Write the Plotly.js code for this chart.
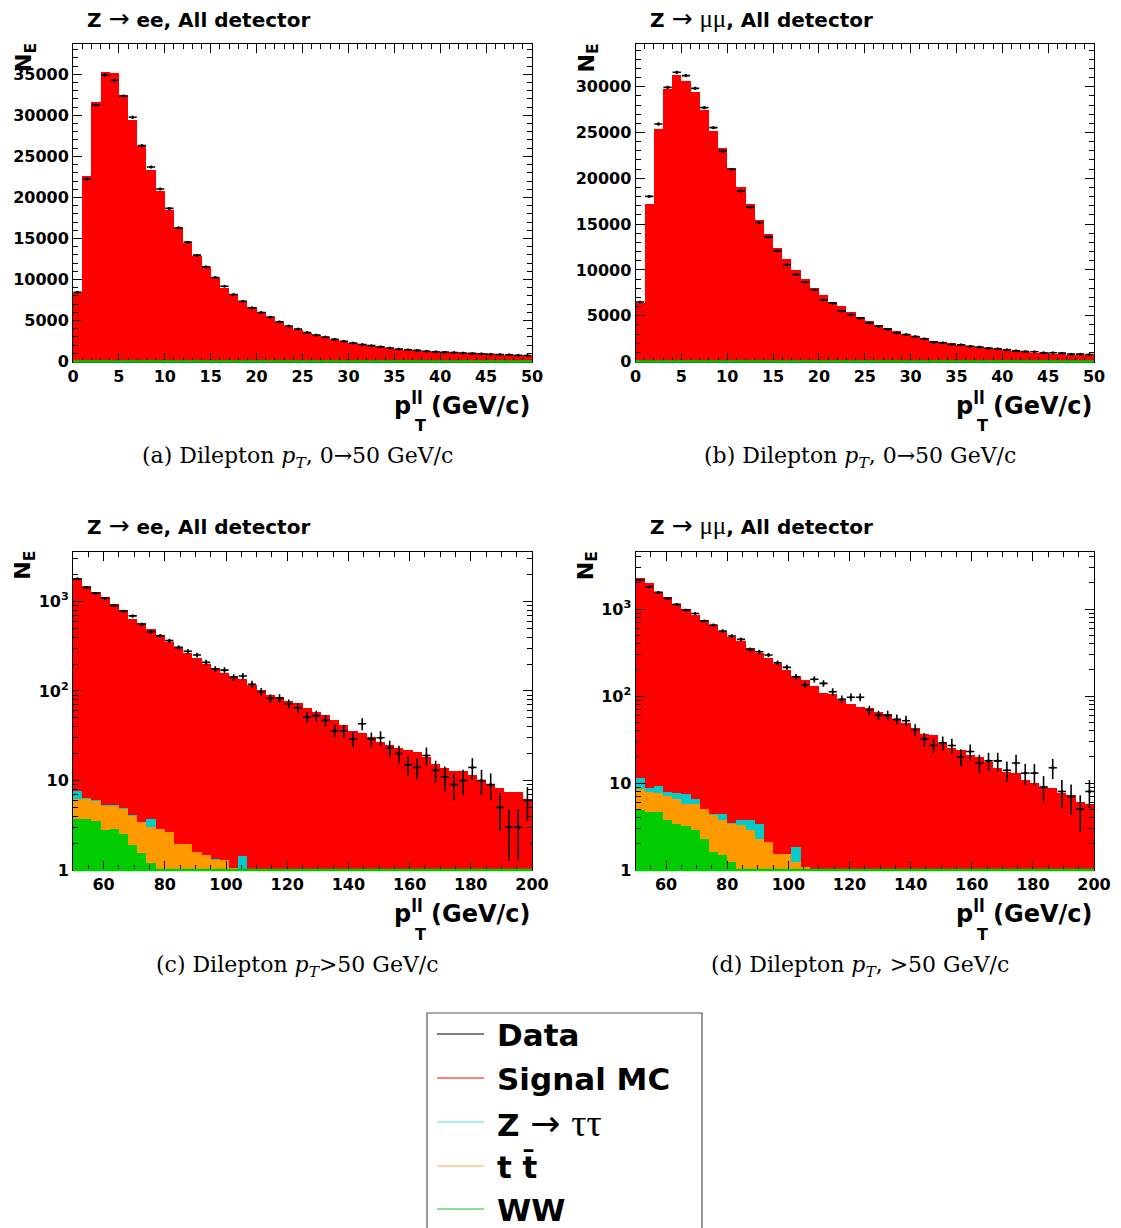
<!DOCTYPE html>
<html><head><meta charset="utf-8">
<script src="https://cdn.plot.ly/plotly-3.0.1.min.js"></script>
<style>html,body{margin:0;padding:0;background:#fff}</style>
</head><body><div id="plot" style="width:1121px;height:1228px"></div>
<script>
// ---------- DATA ----------
// (a) Z->ee, pT 0-50, 1 GeV bins
const sigA = [8400,22560,31630,35290,35130,32490,29400,26270,23300,20780,18450,16220,14470,12840,11460,10120,9020,8200,7390,6660,6050,5370,4800,4350,3900,3490,3250,3000,2680,2440,2270,2110,1950,1780,1620,1500,1420,1340,1260,1170,1130,1100,1050,980,940,900,860,820,780,720];
const dataA = [8450,22240,31270,34930,34280,32370,29770,26310,23710,21020,18660,16290,14550,12960,11540,10240,9180,8170,7350,6540,5980,5420,4850,4320,3950,3520,3230,2980,2700,2470,2250,2080,1930,1790,1640,1510,1430,1350,1250,1180,1140,1090,1040,990,950,890,850,830,770,730];
// (b) Z->mumu, pT 0-50, 1 GeV bins
const sigB = [6420,17200,25390,29760,31290,30660,29460,27500,25200,23270,21090,19040,17220,15400,13870,12380,11170,10010,9030,8040,7280,6480,6010,5390,4840,4400,4000,3640,3310,3020,2770,2550,2290,2110,1970,1820,1710,1570,1460,1350,1240,1130,1020,950,910,870,840,760,730,660];
const dataB = [6500,18030,25930,29930,31570,31210,29820,27710,25530,22990,20980,18600,16850,15180,13580,12080,10560,9500,8660,7830,6730,6370,5500,5100,4730,4220,3860,3530,3130,2950,2730,2480,2110,2040,1860,1820,1670,1570,1460,1380,1270,1160,1090,1060,950,950,910,800,800,760];
// (c) Z->ee, pT 50-200, 3 GeV bins
const sigC = [1808,1484,1282,1109,926,799,633,568,485,419,353,311,266,230,198.5,177.7,156.7,146,133.5,116,102,91,85,77,73,64,59,54,47,42,36,34,31,27,25,23,22,21,18.5,15.3,13.7,12.8,12.8,11.5,10.1,9.1,8.2,7.5,7.5,6.2];
const zttC = [1.5,0.1,0.15,0.1,0.1,0.1,0.1,0.05,0.7,0.05,0.04,0.02,0.02,0.01,0.01,0.01,0.01,0.01,0.45,0,0,0,0,0,0,0,0,0,0,0,0,0,0,0,0,0,0,0,0,0,0,0,0,0,0,0,0,0,0,0];
const ttC = [2.5,2.5,2.4,2.4,2.3,2.3,2.1,1.86,1.81,2.05,1.94,1.45,1.55,1.27,1.27,1.11,1.19,0.94,0.9,0.5,0.4,0.3,0.2,0.2,0,0,0,0,0,0,0,0,0,0,0,0,0,0,0,0,0,0,0,0,0,0,0,0,0,0];
const wwC = [3.7,3.7,3.5,2.8,2.9,2.5,1.9,1.54,1.19,0.8,0.7,0.5,0.4,0.3,0.2,0.2,0.1,0.1,0.1,0,0,0,0,0,0,0,0,0,0,0,0,0,0,0,0,0,0,0,0,0,0,0,0,0,0,0,0,0,0,0];
const dataC = [1790,1430,1240,1090,900,780,690,556,460,414,365,307,278,252,209,176,171,142,147,119,98,83,83,72,65,51,53,47,36,36,29,43,29,30,23,20,15,14,19,13,11,9,10,14,10,9,5,3,3,6];
// (d) Z->mumu, pT 50-200, 3 GeV bins
const sigD = [2279,1963,1572,1354,1133,983,846,743,651,560,477,429,349,306,269,235,197,168,152,130,109,105,92,82,75,72,66,62,55,49,43,37,36,29,25,24,21,20,17.6,14.8,13.5,12.9,10.8,9.9,9.1,8.7,7.6,7.3,6.1,5.8];
const zttD = [2.8,0.8,1.5,0.8,1.2,1.7,0.8,0.05,0.1,0.6,0.1,0.5,0.92,1.13,0.01,0.01,0.01,0.57,0.01,0,0,0,0,0,0,0,0,0,0,0,0,0,0,0,0,0,0,0,0,0,0,0,0,0,0,0,0,0,0,0];
const ttD = [3.6,3.2,3.1,3.3,3.1,2.6,2.82,2.75,2.68,2.31,2.18,2.3,2.08,1.67,1.58,1.13,1.23,1.05,0.87,0,0,0,0,0,0,0,0,0,0,0,0,0,0,0,0,0,0,0,0,0,0,0,0,0,0,0,0,0,0,0];
const wwD = [4.9,4.7,4.6,3.8,3.4,3.2,2.88,2.25,1.62,1.49,1.22,1.0,0.8,0.6,0.5,0.4,0.3,0.2,0.2,0,0,0,0,0,0,0,0,0,0,0,0,0,0,0,0,0,0,0,0,0,0,0,0,0,0,0,0,0,0,0];
const dataD = [2155,1806,1555,1327,1132,974,891,728,655,559,490,449,344,323,296,241,214,167,134,156,140,112,92,97,97,69,60,60,54,52,41,32,27,29,27,20,23,17,18,18,14,17,13,13,9,15,8,7,5,8];

const ARROW = s => '<span style="font-family:DejaVu Sans;font-weight:normal;font-size:' + s + 'px">→</span>';
const GREEK = (t, s) => '<span style="font-family:Liberation Serif;font-weight:normal;font-size:' + s + 'px">' + t + '</span>';
const titles = ['Z ' + ARROW(25) + ' ee, All detector',
                'Z ' + ARROW(25) + ' ' + GREEK('μμ', 25) + ', All detector',
                'Z ' + ARROW(25) + ' ee, All detector',
                'Z ' + ARROW(25) + ' ' + GREEK('μμ', 25) + ', All detector'];
const captions = ['(a) Dilepton <i>p<sub>T</sub></i>, 0→50 GeV/c',
                  '(b) Dilepton <i>p<sub>T</sub></i>, 0→50 GeV/c',
                  '(c) Dilepton <i>p<sub>T</sub></i>&gt;50 GeV/c',
                  '(d) Dilepton <i>p<sub>T</sub></i>, &gt;50 GeV/c'];
const legendNames = ['Data', 'Signal MC', 'Z ' + ARROW(36) + ' ' + GREEK('ττ', 38), 't t\u0304', 'WW'];

// ---------- STYLE ----------
const W = 1121, H = 1228;
const px = x => x / W, py = y => 1 - y / H;
const C = {sig:'#ff0000', ztt:'#00cccc', tt:'#ff9900', ww:'#00cc00'};
const FONT = 'DejaVu Sans, Liberation Sans, sans-serif';
const SERIF = 'DejaVu Serif, Liberation Serif, serif';

const panels = [
  {sig:sigA, data:dataA, lo:0,  w:1, log:false, xr:[73,532],  yr:[44,361.5], yrange:[0,38700], px0:0},
  {sig:sigB, data:dataB, lo:0,  w:1, log:false, xr:[635.5,1094], yr:[44,361.5], yrange:[0,34660], px0:562.5},
  {sig:sigC, ztt:zttC, tt:ttC, ww:wwC, data:dataC, lo:50, w:3, log:true, xr:[73,532], yr:[551.7,870], yrange:[0,Math.log10(3600)], px0:0},
  {sig:sigD, ztt:zttD, tt:ttD, ww:wwD, data:dataD, lo:50, w:3, log:true, xr:[635.5,1094], yr:[551.7,870], yrange:[0,Math.log10(4570)], px0:562.5}
];

const traces = [], layout = {
  width:W, height:H, margin:{l:0,r:0,t:0,b:0}, paper_bgcolor:'#fff', plot_bgcolor:'#fff',
  showlegend:false, barmode:'overlay', bargap:0, annotations:[], shapes:[],
  font:{family:FONT, color:'#000'}
};

const minorLog = [];
for (let e = 0; e < 4; e++) for (let m = 2; m <= 9; m++) minorLog.push(m * Math.pow(10, e));

panels.forEach((p, k) => {
  const n = p.sig.length, sfx = k === 0 ? '' : String(k + 1);
  const xa = 'x' + sfx, ya = 'y' + sfx;
  const xc = p.sig.map((_, i) => p.lo + (i + 0.5) * p.w);
  const bar = (y, col) => ({type:'bar', x:xc, y:y, width:p.w, xaxis:xa, yaxis:ya,
      marker:{color:col, line:{width:0}}, hoverinfo:'skip'});
  if (p.log) {
    const s1 = p.ww.slice();
    const s2 = s1.map((v, i) => v + p.tt[i]);
    const s3 = s2.map((v, i) => v + p.ztt[i]);
    const s4 = s3.map((v, i) => v + p.sig[i]);
    const clean = a => a.map(v => v > 0 ? v : null);
    traces.push(bar(clean(s4), C.sig), bar(clean(s3), C.ztt), bar(clean(s2), C.tt), bar(clean(s1), C.ww));
  } else {
    traces.push(bar(p.sig, C.sig));
  }
  traces.push({type:'scatter', mode:'markers', x:xc, y:p.data, xaxis:xa, yaxis:ya,
    marker:{color:'#000', size:3},
    error_x:{type:'constant', value:p.w * 0.45, width:0, thickness:1.6, color:'#000'},
    error_y:{type:'data', array:p.data.map(v => Math.sqrt(v)), width:0, thickness:1.6, color:'#000'},
    hoverinfo:'skip'});

  const tickfont = {family:FONT, size:16, weight:'bold', color:'#000'};
  const xaxis = {domain:[px(p.xr[0]), px(p.xr[1])], anchor:ya, range:[p.lo, p.lo + p.w * n],
    showline:true, linecolor:'#000', linewidth:1, mirror:'ticks', ticks:'inside', ticklen:9, tickcolor:'#000',
    showgrid:false, zeroline:false, tickfont:tickfont, fixedrange:true};
  if (p.log) { Object.assign(xaxis, {tickmode:'linear', tick0:0, dtick:20, minor:{ticks:'inside', ticklen:5, dtick:5, tick0:0, tickcolor:'#000', showgrid:false}}); }
  else { Object.assign(xaxis, {tickmode:'linear', tick0:0, dtick:5, minor:{ticks:'inside', ticklen:5, dtick:1, tick0:0, tickcolor:'#000', showgrid:false}}); }
  const yaxis = {domain:[py(p.yr[1]), py(p.yr[0])], anchor:xa, range:p.yrange,
    showline:true, linecolor:'#000', linewidth:1, mirror:'ticks', ticks:'inside', ticklen:9, tickcolor:'#000',
    showgrid:false, zeroline:false, tickfont:tickfont, fixedrange:true};
  if (p.log) {
    Object.assign(yaxis, {type:'log', tickmode:'array', tickvals:[1,10,100,1000], ticktext:['1','10','10<sup>2</sup>','10<sup>3</sup>'],
      minor:{ticks:'inside', ticklen:5, tickvals:minorLog, tickcolor:'#000', showgrid:false}});
  } else {
    Object.assign(yaxis, {tickmode:'linear', tick0:0, dtick:5000, tickformat:'d',
      minor:{ticks:'inside', ticklen:5, dtick:1000, tick0:0, tickcolor:'#000', showgrid:false}});
  }
  layout['xaxis' + sfx] = xaxis;
  layout['yaxis' + sfx] = yaxis;

  // green WW outline along the bottom of the frame
  layout.shapes.push({type:'line', xref:xa + ' domain', yref:ya + ' domain', x0:0, x1:1, y0:0, y1:0,
    line:{color:C.ww, width:2.5}, layer:'above'});

  const dx = p.px0, top = p.yr[0];
  // panel title
  layout.annotations.push({xref:'paper', yref:'paper', x:px(85 + dx), y:py(top - 26), xanchor:'left', yanchor:'middle',
    text:titles[k], showarrow:false, font:{family:FONT, size:20, weight:'bold', color:'#000'}});
  // y title N_E
  layout.annotations.push({xref:'paper', yref:'paper', x:px(25 + dx), y:py(top + 14), xanchor:'center', yanchor:'middle',
    text:'N<sub>E</sub>', textangle:-90, showarrow:false, font:{family:FONT, size:22, weight:'bold', color:'#000'}});
  // x title
  const bot = p.yr[1];
  layout.annotations.push({xref:'paper', yref:'paper', x:px(p.xr[1] + 1), y:py(bot + 42), xanchor:'right', yanchor:'middle',
    text:'p<sup>ll</sup> (GeV/c)', showarrow:false, font:{family:FONT, size:24, weight:'bold', color:'#000'}});
  layout.annotations.push({xref:'paper', yref:'paper', x:px(420 + dx), y:py(bot + 64), xanchor:'center', yanchor:'middle',
    text:'T', showarrow:false, font:{family:FONT, size:16, weight:'bold', color:'#000'}});
  // caption
  layout.annotations.push({xref:'paper', yref:'paper', x:px(297 + dx), y:py(bot + 96), xanchor:'center', yanchor:'middle',
    text:captions[k], showarrow:false, font:{family:SERIF, size:22, color:'#000'}});
});

// legend box (drawn with shapes + text)
layout.shapes.push({type:'rect', xref:'paper', yref:'paper', x0:px(427), x1:px(702), y0:py(1240), y1:py(1013),
  line:{color:'#555', width:1.2}, fillcolor:'rgba(0,0,0,0)'});
const legCols = ['#000', '#ff0000', '#55dddd', '#ffaa44', '#22bb22'];
const legY = [1034, 1078, 1122, 1166, 1209];
legendNames.forEach((nm, i) => {
  layout.shapes.push({type:'line', xref:'paper', yref:'paper', x0:px(437), x1:px(484), y0:py(legY[i]), y1:py(legY[i]),
    line:{color:legCols[i], width:1.2}});
  layout.annotations.push({xref:'paper', yref:'paper', x:px(495), y:py(legY[i] + 1), xanchor:'left', yanchor:'middle',
    text:nm, showarrow:false, font:{family:FONT, size:31, weight:'bold', color:'#000'}});
});

Plotly.newPlot('plot', traces, layout, {staticPlot:true, displayModeBar:false});
</script>
</body></html>
